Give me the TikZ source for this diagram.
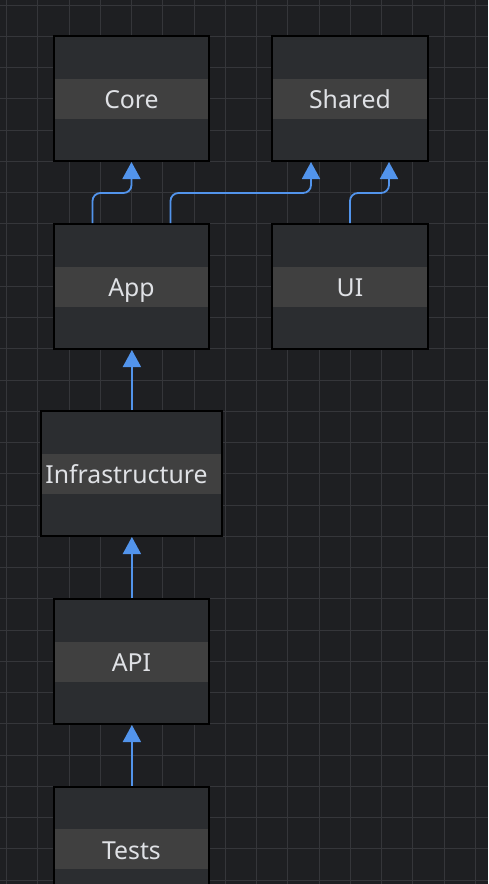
\documentclass[tikz,border=0pt]{standalone}
\usepackage{fontspec}
\setmainfont{Noto Sans}
\usetikzlibrary{arrows.meta}
\definecolor{canvasbg}{HTML}{1E1F22}
\definecolor{gridcol}{HTML}{35363A}
\definecolor{boxfill}{HTML}{2B2D30}
\definecolor{bandfill}{HTML}{404040}
\definecolor{labelcol}{HTML}{DFE1E5}
\definecolor{depblue}{HTML}{5294EC}
\tikzset{
  module/.style={draw=black, line width=1pt, fill=boxfill, inner sep=0pt,
    minimum width=77.5pt, minimum height=62.5pt, text=labelcol,
    font=\fontsize{12.4pt}{14pt}\selectfont, text height=10pt, text depth=0pt,
    path picture={\fill[bandfill] ([yshift=10pt]path picture bounding box.west)
      rectangle ([yshift=-10pt]path picture bounding box.east);}},
  dep/.style={draw=depblue, line width=0.9pt, rounded corners=4pt,
    -{Triangle[width=9pt,length=8.5pt]}},
  gridline/.style={draw=gridcol, line width=0.5pt}
}

\begin{document}
\begin{tikzpicture}[x=0.5pt,y=-0.5pt]
  \useasboundingbox (0,0) rectangle (488,884) ;
  \clip (0,0) rectangle (488,884) ;
  \fill[canvasbg] (0,0) rectangle (488,884) ;
  \foreach \i in {0,...,15}
    \draw[gridline] ({6.5+31.25*\i},0) -- ({6.5+31.25*\i},884) ;
  \foreach \j in {0,...,28}
    \draw[gridline] (0,{5+31.25*\j}) -- (488,{5+31.25*\j}) ;

  \node[module] (core) at (131.5,98.5) {Core} ;
  \node[module, minimum width=78pt] (shared) at (350,98.5) {Shared} ;
  \node[module] (app) at (131.5,286.5) {App} ;
  \node[module, minimum width=78pt] (ui) at (350,286.5) {UI} ;
  \node[module, minimum width=90.5pt] (infra) at (131.5,473.5) {Infrastructure\kern5pt} ;
  \node[module] (api) at (131.5,661.5) {API} ;
  \node[module] (tests) at (131.5,849) {Tests} ;

  \draw[dep] ([xshift=-19.5pt]app.north) |- ([yshift=-15.5pt]core.south) -- (core.south) ;
  \draw[dep] ([xshift=19.5pt]app.north) |- ([xshift=-19.5pt,yshift=-15.5pt]shared.south)
    -- ([xshift=-19.5pt]shared.south) ;
  \draw[dep] (ui.north) |- ([xshift=19.5pt,yshift=-15.5pt]shared.south)
    -- ([xshift=19.5pt]shared.south) ;
  \draw[dep] ([xshift=0.2pt]infra.north) -- ([xshift=0.2pt]app.south) ;
  \draw[dep] ([xshift=0.2pt]api.north) -- ([xshift=0.2pt]infra.south) ;
  \draw[dep] ([xshift=0.2pt]tests.north) -- ([xshift=0.2pt]api.south) ;
\end{tikzpicture}
\end{document}
